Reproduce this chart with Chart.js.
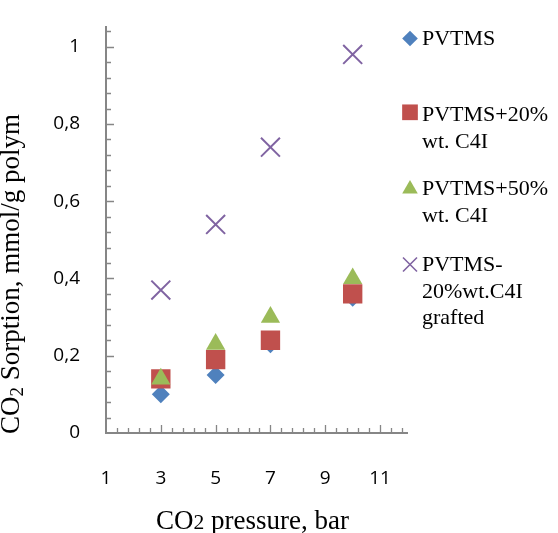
<!DOCTYPE html>
<html>
<head>
<meta charset="utf-8">
<script src="https://cdn.jsdelivr.net/npm/chart.js@4.4.1/dist/chart.umd.min.js"></script>
<style>
  body { margin: 0; background: #fff; }
  #wrap { position: relative; width: 558px; height: 533px; overflow: hidden; }
  #chart { position: absolute; left: 0; top: 0; }
  .serif { position: absolute; font-family: "Liberation Serif", "Times New Roman", serif; color: #000; white-space: nowrap; }
  #ytitle { font-size: 27px; line-height: 1; left: -3px; top: 434px; transform-origin: 0 0; transform: rotate(-90deg); }
  #xtitle { font-size: 27px; line-height: 1; left: 156px; top: 507px; }
  #xtitle span { font-size: 80%; }
  .leg { left: 422px; font-size: 22px; line-height: 26.7px; }
</style>
</head>
<body>
<div id="wrap">
  <canvas id="chart" width="558" height="533"></canvas>
  <div class="serif" id="ytitle">CO<sub style="font-size:70%;vertical-align:-0.2em">2</sub> Sorption, mmol/g polym</div>
  <div class="serif" id="xtitle">CO<span>2</span> pressure, bar</div>
</div>
<script>
// pressure, bar
const pressure = [3, 5, 7, 10];

// CO2 sorption, mmol/g polym
const pvtms = [0.10, 0.15, 0.23, 0.35];
const pvtms20 = [0.14, 0.19, 0.24, 0.36];
const pvtms50 = [0.14, 0.23, 0.30, 0.40];
const pvtmsGrafted = [0.37, 0.54, 0.74, 0.98];

const seriesNames = [
  ["PVTMS"],
  ["PVTMS+20%", "wt. C4I"],
  ["PVTMS+50%", "wt. C4I"],
  ["PVTMS-", "20%wt.C4I", "grafted"]
];

const xTicks = [1, 3, 5, 7, 9, 11];
const yTicks = [0, 0.2, 0.4, 0.6, 0.8, 1];
const yTickLabels = ["0", "0,2", "0,4", "0,6", "0,8", "1"];
const xMinorStep = 0.4;
const yMinorStep = 0.04;

const colors = ["#4F81BD", "#C0504D", "#9BBB59", "#8064A2"];
const styles = ["rectRot", "rect", "triangle", "crossRot"];
const radii = [9, 13.7, 11.1, 13.4];
const legendRadii = [7.8, 11.1, 9, 9.9];
const legendTops = [25, 101, 175, 251];
const legendMarkY = [38.5, 112.3, 189, 264.5];
const axisColor = "#868686";

// legend text as real html
const wrap = document.getElementById("wrap");
seriesNames.forEach((lines, i) => {
  const d = document.createElement("div");
  d.className = "serif leg";
  d.style.top = legendTops[i] + "px";
  d.innerHTML = lines.join("<br>");
  wrap.appendChild(d);
});

const allY = [pvtms, pvtms20, pvtms50, pvtmsGrafted];
const datasets = allY.map((ys, i) => ({
  label: seriesNames[i].join(" "),
  data: pressure.map((x, j) => ({ x: x, y: ys[j] })),
  pointStyle: styles[i],
  pointRadius: radii[i],
  pointHoverRadius: radii[i],
  backgroundColor: colors[i],
  borderColor: colors[i],
  pointBorderWidth: i === 3 ? 2 : 0,
  showLine: false,
  order: 3 - i
}));

// ticks inside the plot, and the legend markers
const extras = {
  id: "extras",
  beforeDatasetsDraw(chart) {
    const ctx = chart.ctx;
    const xs = chart.scales.x, ys = chart.scales.y;
    const area = chart.chartArea;
    ctx.save();
    ctx.strokeStyle = axisColor;
    ctx.lineWidth = 1.3;
    ctx.beginPath();
    let k = 0;
    for (let v = xs.min; v < xs.max - 1e-6; v += xMinorStep, k++) {
      if (k === 0) continue;
      const px = Math.round(xs.getPixelForValue(v)) + 0.5;
      const len = k % 5 === 0 ? 8 : 5;
      ctx.moveTo(px, area.bottom);
      ctx.lineTo(px, area.bottom - len);
    }
    k = 0;
    for (let v = ys.min; v < ys.max - 1e-6; v += yMinorStep, k++) {
      if (k === 0) continue;
      const py = Math.round(ys.getPixelForValue(v)) + 0.5;
      const len = k % 5 === 0 ? 8 : 5;
      ctx.moveTo(area.left, py);
      ctx.lineTo(area.left + len, py);
    }
    ctx.stroke();
    ctx.restore();
  },
  afterDraw(chart) {
    const ctx = chart.ctx;
    ctx.save();
    colors.forEach((c, i) => {
      ctx.fillStyle = c;
      ctx.strokeStyle = c;
      ctx.lineWidth = i === 3 ? 1.6 : 0;
      Chart.helpers.drawPoint(ctx, {
        pointStyle: styles[i],
        radius: legendRadii[i],
        rotation: 0,
        borderWidth: i === 3 ? 1.6 : 0
      }, 410, legendMarkY[i]);
    });
    ctx.restore();
  }
};

new Chart(document.getElementById("chart"), {
  type: "scatter",
  data: { datasets: datasets },
  plugins: [extras],
  options: {
    responsive: false,
    animation: false,
    layout: { padding: { left: 0, top: 27.4, right: 150.5, bottom: 0 } },
    plugins: { legend: { display: false }, tooltip: { enabled: false } },
    scales: {
      x: {
        type: "linear",
        min: 1,
        max: 12,
        afterBuildTicks: (s) => { s.ticks = xTicks.map(v => ({ value: v })); },
        afterFit: (s) => { s.height = 100; s.paddingLeft = 0; s.paddingRight = 0; },
        grid: { display: false, drawTicks: false },
        border: { display: true, color: axisColor, width: 2 },
        ticks: {
          padding: 34,
          color: "#000",
          font: { family: "'Open Sans', 'Liberation Sans', sans-serif", size: 19 }
        }
      },
      y: {
        type: "linear",
        min: 0,
        max: 1.05,
        afterBuildTicks: (s) => { s.ticks = yTicks.map(v => ({ value: v })); },
        afterFit: (s) => { s.width = 106; s.paddingTop = 0; s.paddingBottom = 0; },
        grid: { display: false, drawTicks: false },
        border: { display: true, color: axisColor, width: 2 },
        ticks: {
          padding: 26,
          color: "#000",
          font: { family: "'Open Sans', 'Liberation Sans', sans-serif", size: 19 },
          callback: (v, i) => yTickLabels[i]
        }
      }
    }
  }
});
</script>
</body>
</html>
